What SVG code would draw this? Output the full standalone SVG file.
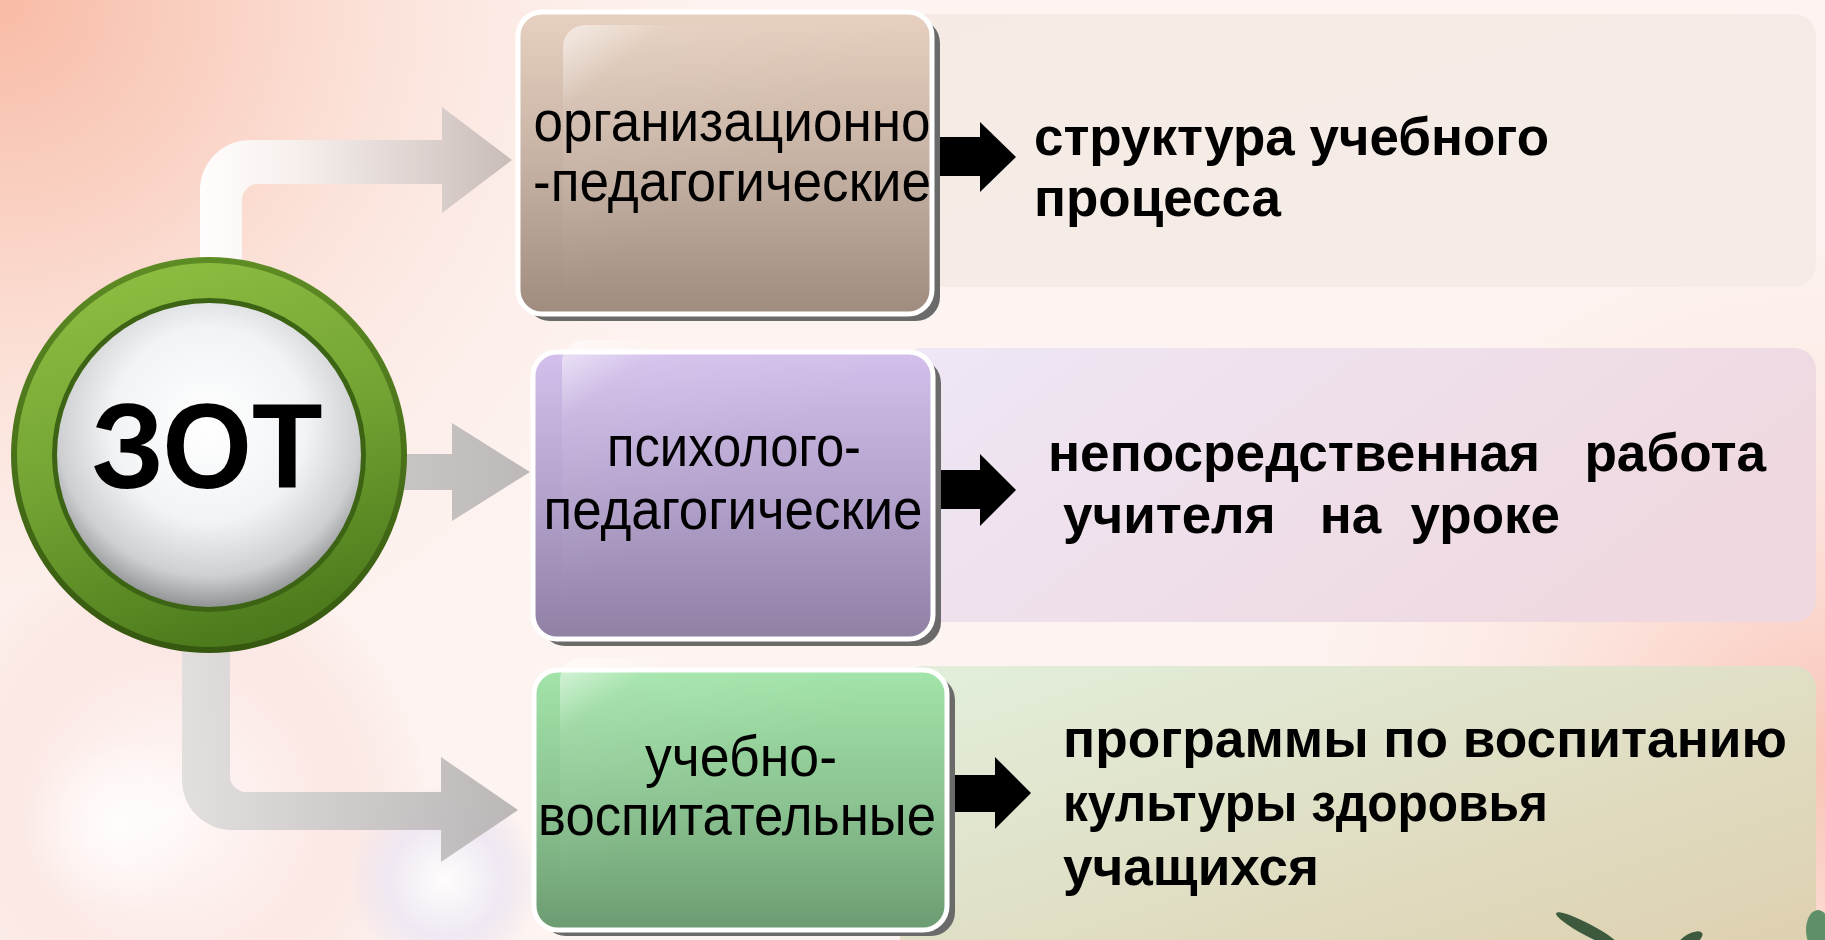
<svg xmlns="http://www.w3.org/2000/svg" width="1825" height="940" viewBox="0 0 1825 940">
<defs>
<radialGradient id="bgTL" cx="0" cy="0" r="820" gradientUnits="userSpaceOnUse">
<stop offset="0" stop-color="#f8bba6"/>
<stop offset="0.45" stop-color="#fbe1d8"/>
<stop offset="1" stop-color="#fdf4f1" stop-opacity="0"/>
</radialGradient>
<radialGradient id="bgBR" cx="1825" cy="760" r="560" gradientUnits="userSpaceOnUse">
<stop offset="0" stop-color="#f9c2b4"/>
<stop offset="1" stop-color="#fdeae4" stop-opacity="0"/>
</radialGradient>
<radialGradient id="bokehPink" cx="0.5" cy="0.5" r="0.5">
<stop offset="0" stop-color="#fffafa"/>
<stop offset="0.6" stop-color="#fbe6e2"/>
<stop offset="1" stop-color="#f8d8d2" stop-opacity="0"/>
</radialGradient>
<radialGradient id="bokehLav" cx="0.5" cy="0.5" r="0.5">
<stop offset="0" stop-color="#ffffff"/>
<stop offset="0.6" stop-color="#ece6f4"/>
<stop offset="1" stop-color="#e4dcee" stop-opacity="0"/>
</radialGradient>
<radialGradient id="glow" cx="0.5" cy="0.5" r="0.5">
<stop offset="0" stop-color="#ffffff" stop-opacity="0.8"/>
<stop offset="1" stop-color="#ffffff" stop-opacity="0"/>
</radialGradient>
<linearGradient id="p1" x1="0" y1="0" x2="1" y2="1">
<stop offset="0" stop-color="#f6ebe4"/>
<stop offset="1" stop-color="#f5ece8"/>
</linearGradient>
<linearGradient id="p2" x1="0" y1="0" x2="1" y2="0.4">
<stop offset="0" stop-color="#eee7f5"/>
<stop offset="1" stop-color="#efd8e0"/>
</linearGradient>
<linearGradient id="p3" x1="0" y1="0" x2="1" y2="1">
<stop offset="0" stop-color="#e2efdc"/>
<stop offset="1" stop-color="#decfae"/>
</linearGradient>
<linearGradient id="g1" x1="0" y1="0" x2="0" y2="1">
<stop offset="0" stop-color="#e7d0bf"/>
<stop offset="0.5" stop-color="#c6b2a4"/>
<stop offset="1" stop-color="#a08c7f"/>
</linearGradient>
<linearGradient id="g2" x1="0" y1="0" x2="0" y2="1">
<stop offset="0" stop-color="#d3c0ec"/>
<stop offset="0.5" stop-color="#b3a2cc"/>
<stop offset="1" stop-color="#9080a4"/>
</linearGradient>
<linearGradient id="g3" x1="0" y1="0" x2="0" y2="1">
<stop offset="0" stop-color="#a2e4a9"/>
<stop offset="0.5" stop-color="#8cc492"/>
<stop offset="1" stop-color="#6c9c72"/>
</linearGradient>
<linearGradient id="gloss" x1="0" y1="0" x2="0.5" y2="0.5">
<stop offset="0" stop-color="#ffffff" stop-opacity="0.6"/>
<stop offset="0.3" stop-color="#ffffff" stop-opacity="0.08"/>
<stop offset="1" stop-color="#ffffff" stop-opacity="0"/>
</linearGradient>
<linearGradient id="cTop" x1="200" y1="0" x2="512" y2="0" gradientUnits="userSpaceOnUse">
<stop offset="0" stop-color="#ffffff"/>
<stop offset="0.3" stop-color="#f7f1ef"/>
<stop offset="1" stop-color="#c6bab6"/>
</linearGradient>
<linearGradient id="cMid" x1="380" y1="0" x2="530" y2="0" gradientUnits="userSpaceOnUse">
<stop offset="0" stop-color="#cac6c6"/>
<stop offset="1" stop-color="#bdb9b9"/>
</linearGradient>
<linearGradient id="cBot" x1="182" y1="0" x2="518" y2="0" gradientUnits="userSpaceOnUse">
<stop offset="0" stop-color="#e0dddd"/>
<stop offset="1" stop-color="#b6b2b2"/>
</linearGradient>
<linearGradient id="ringOuter" x1="0" y1="0" x2="0" y2="1">
<stop offset="0" stop-color="#5e8c24"/>
<stop offset="1" stop-color="#35570f"/>
</linearGradient>
<linearGradient id="ringMain" x1="0.3" y1="0" x2="0.6" y2="1">
<stop offset="0" stop-color="#8ebd42"/>
<stop offset="0.5" stop-color="#72a232"/>
<stop offset="1" stop-color="#4a781b"/>
</linearGradient>
<radialGradient id="sphere" cx="0.5" cy="0.4" r="0.64">
<stop offset="0" stop-color="#ffffff"/>
<stop offset="0.5" stop-color="#f1f3f5"/>
<stop offset="0.78" stop-color="#cdcfd1"/>
<stop offset="1" stop-color="#7a7c7c"/>
</radialGradient>
</defs>
<style>
.lbl{font-family:'Liberation Sans',Arial,sans-serif;font-size:58px;fill:#000;text-anchor:middle}
.desc{font-family:'Liberation Sans',Arial,sans-serif;font-size:54px;font-weight:bold;fill:#000;white-space:pre}
.shadow{fill:#6a6a6a}
.box{stroke:#ffffff;stroke-width:5}
.blk{fill:#000}
</style>

<g id="background">
<rect width="1825" height="940" fill="#fdf3f0"/>
<rect width="1825" height="940" fill="url(#bgTL)"/>
<rect width="1825" height="940" fill="url(#bgBR)"/>
<circle cx="170" cy="810" r="260" fill="url(#bokehPink)" opacity="0.8"/>
<circle cx="445" cy="880" r="95" fill="url(#bokehLav)" opacity="0.8"/>
<circle cx="115" cy="825" r="90" fill="url(#glow)"/>
</g>

<g id="node-desc-1">
<rect x="900" y="14" width="916" height="273" rx="22" fill="url(#p1)"/>
<text class="desc" x="1034" y="155" textLength="515" lengthAdjust="spacingAndGlyphs">структура учебного</text>
<text class="desc" x="1034" y="216" textLength="247" lengthAdjust="spacingAndGlyphs">процесса</text>
</g>
<g id="node-desc-2">
<rect x="900" y="348" width="916" height="274" rx="22" fill="url(#p2)"/>
<text class="desc" x="1048" y="471" textLength="718" lengthAdjust="spacingAndGlyphs">непосредственная   работа</text>
<text class="desc" x="1063" y="533" textLength="497" lengthAdjust="spacingAndGlyphs">учителя   на  уроке</text>
</g>
<g id="node-desc-3">
<rect x="900" y="666" width="916" height="300" rx="22" fill="url(#p3)"/>
<text class="desc" x="1063" y="757" textLength="724" lengthAdjust="spacingAndGlyphs">программы по воспитанию</text>
<text class="desc" x="1063" y="821" textLength="485" lengthAdjust="spacingAndGlyphs">культуры здоровья</text>
<text class="desc" x="1063" y="885" textLength="256" lengthAdjust="spacingAndGlyphs">учащихся</text>
</g>

<g id="plant">
<ellipse cx="1588" cy="930" rx="36" ry="6" fill="#3d5a3e" transform="rotate(28 1588 930)"/>
<ellipse cx="1690" cy="940" rx="14" ry="6" fill="#3d5a3e" transform="rotate(-30 1690 940)"/>
<ellipse cx="1818" cy="930" rx="12" ry="20" fill="#5f8f68"/>
</g>

<g id="connectors">
<path d="M200 330 L200 190 A50 50 0 0 1 250 140 L442 140 L442 107 L512 160 L442 213 L442 184 L258 184 A16 16 0 0 0 242 200 L242 330 Z" fill="url(#cTop)" opacity="0.95"/>
<path d="M380 454 L452 454 L452 423 L530 472 L452 521 L452 490 L380 490 Z" fill="url(#cMid)"/>
<path d="M182 600 L182 780 A50 50 0 0 0 232 830 L441 830 L441 862 L518 810 L441 757 L441 792 L246 792 A16 16 0 0 1 230 776 L230 600 Z" fill="url(#cBot)" opacity="0.92"/>
<path class="blk" d="M925 137 L980 137 L980 122 L1016 157 L980 192 L980 176 L925 176 Z"/>
<path class="blk" d="M925 470 L980 470 L980 454 L1016 490 L980 526 L980 509 L925 509 Z"/>
<path class="blk" d="M940 775 L995 775 L995 757 L1031 793 L995 829 L995 812 L940 812 Z"/>
</g>

<g id="node-zot">
<circle cx="209" cy="455" r="198" fill="url(#ringOuter)"/>
<circle cx="209" cy="455" r="192" fill="url(#ringMain)"/>
<circle cx="209" cy="455" r="157" fill="#3c6414"/>
<circle cx="209" cy="455" r="152" fill="url(#sphere)"/>
<text x="207" y="488" font-family="'Liberation Sans',Arial,sans-serif" font-size="120" font-weight="bold" text-anchor="middle" textLength="231" lengthAdjust="spacingAndGlyphs">ЗОТ</text>
</g>

<g id="node-org">
<rect class="shadow" x="526" y="19" width="414" height="302" rx="24"/>
<rect class="box" x="518" y="12" width="414" height="302" rx="24" fill="url(#g1)"/>
<rect x="563" y="25" width="360" height="280" rx="22" fill="url(#gloss)"/>
<text class="lbl" x="732" y="141" textLength="397" lengthAdjust="spacingAndGlyphs">организационно</text>
<text class="lbl" x="732" y="201" textLength="398" lengthAdjust="spacingAndGlyphs">-педагогические</text>
</g>

<g id="node-psy">
<rect class="shadow" x="541" y="359" width="400" height="287" rx="24"/>
<rect class="box" x="533" y="352" width="400" height="287" rx="24" fill="url(#g2)"/>
<rect x="562" y="340" width="360" height="270" rx="22" fill="url(#gloss)"/>
<text class="lbl" x="734" y="466" textLength="254" lengthAdjust="spacingAndGlyphs">психолого-</text>
<text class="lbl" x="733" y="529" textLength="379" lengthAdjust="spacingAndGlyphs">педагогические</text>
</g>

<g id="node-edu">
<rect class="shadow" x="542" y="676" width="413" height="260" rx="24"/>
<rect class="box" x="534" y="670" width="413" height="260" rx="24" fill="url(#g3)"/>
<rect x="560" y="658" width="370" height="250" rx="22" fill="url(#gloss)"/>
<text class="lbl" x="741" y="776" textLength="192" lengthAdjust="spacingAndGlyphs">учебно-</text>
<text class="lbl" x="737" y="835" textLength="398" lengthAdjust="spacingAndGlyphs">воспитательные</text>
</g>
</svg>
